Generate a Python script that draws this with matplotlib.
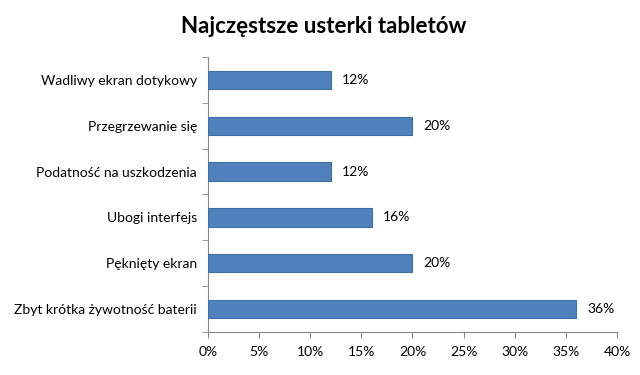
import matplotlib
matplotlib.use("Agg")
import matplotlib.pyplot as plt
from matplotlib.ticker import FuncFormatter, MultipleLocator

plt.rcParams['font.family'] = ['Lato', 'DejaVu Sans']

categories = ["Zbyt krótka żywotność baterii", "Pęknięty ekran", "Ubogi interfejs",
              "Podatność na uszkodzenia", "Przegrzewanie się", "Wadliwy ekran dotykowy"]
values = [36, 20, 16, 12, 20, 12]
title = "Najczęstsze usterki tabletów"

fig = plt.figure(figsize=(6.4, 3.75), dpi=100)
ax = fig.add_axes([0.325, 0.115, 0.639, 0.733])

y = range(len(categories))
ax.barh(y, values, height=0.4, color="#4F81BD", edgecolor="#3F6FA8", linewidth=0.8, zorder=3)
for yi, v in zip(y, values):
    ax.annotate(f"{v}%", (v, yi), xytext=(8, 0), textcoords="offset points",
                va="center", ha="left", fontsize=10, color="black")

ax.set_xlim(0, 40)
ax.set_ylim(-0.5, len(categories) - 0.5)
ax.xaxis.set_major_locator(MultipleLocator(5))
ax.xaxis.set_major_formatter(FuncFormatter(lambda x, p: f"{int(x)}%"))
ax.set_yticks(list(y))
ax.set_yticklabels(categories, fontsize=10)
ax.set_yticks([i - 0.5 for i in range(len(categories) + 1)], minor=True)
ax.tick_params(axis='y', which='major', length=0, pad=8)
ax.tick_params(axis='y', which='minor', length=4, color="#868686", direction='out')
ax.tick_params(axis='x', length=4, color="#868686", labelsize=10, pad=6)

for s in ['top', 'right']:
    ax.spines[s].set_visible(False)
for s in ['left', 'bottom']:
    ax.spines[s].set_color("#868686")

fig.text(0.505, 0.93, title, ha='center', va='center', fontsize=16, fontweight='bold')

fig.savefig("out.png", dpi=100)
